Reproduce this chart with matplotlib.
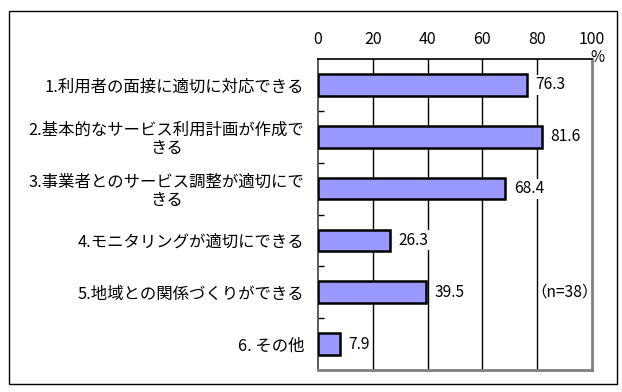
import matplotlib
matplotlib.use("Agg")
import matplotlib.pyplot as plt
from matplotlib.patches import Rectangle

plt.rcParams['font.family'] = ['Noto Sans CJK JP', 'DejaVu Sans']

categories = [
    "1.利用者の面接に適切に対応できる",
    "2.基本的なサービス利用計画が作成で\nきる",
    "3.事業者とのサービス調整が適切にで\nきる",
    "4.モニタリングが適切にできる",
    "5.地域との関係づくりができる",
    "6. その他",
]
values = [76.3, 81.6, 68.4, 26.3, 39.5, 7.9]
xticks = [0, 20, 40, 60, 80, 100]
note = "（n=38）"

W, H = 622, 392
fig = plt.figure(figsize=(W / 100, H / 100), dpi=100)

# outer frame
fig.patches.append(Rectangle((9 / W, 1 - 384 / H), (617 - 9) / W, (384 - 11) / H,
                             transform=fig.transFigure, fill=False,
                             edgecolor='black', linewidth=1.0))

ax = fig.add_axes([318 / W, 1 - 370 / H, (592 - 318) / W, (370 - 59) / H])
n = len(categories)
ypos = list(range(n))
ax.barh(ypos, values, height=0.42, color='#9999FF', edgecolor='black',
        linewidth=1.8, zorder=3)
ax.set_xlim(0, 100)
ax.set_ylim(n - 0.5, -0.5)
ax.set_xticks(xticks)
ax.xaxis.tick_top()
ax.tick_params(axis='x', length=0, pad=8, labelsize=11.5)
ax.set_yticks(ypos)
ax.set_yticklabels(categories, fontsize=11.8, ha='right', multialignment='center',
                   linespacing=1.12)
ax.tick_params(axis='y', which='major', length=0, pad=10)
ax.set_yticks([i + 0.5 for i in range(n)], minor=True)
ax.tick_params(axis='y', which='minor', length=4, direction='in', width=1, color='black')

for x in xticks[1:-1]:
    ax.axvline(x, color='black', linewidth=1.0, zorder=1)

ax.spines['top'].set_color('black')
ax.spines['top'].set_linewidth(1.2)
ax.spines['left'].set_color('#404040')
ax.spines['left'].set_linewidth(1.2)
ax.spines['right'].set_color('#808080')
ax.spines['right'].set_linewidth(2)
ax.spines['bottom'].set_color('#808080')
ax.spines['bottom'].set_linewidth(2)

for y, v in zip(ypos, values):
    ax.annotate(f"{v:.1f}", xy=(v, y), xytext=(6, 0), textcoords='offset points',
                ha='left', va='center', fontsize=11.2, zorder=4,
                bbox=dict(boxstyle='square,pad=0.1', facecolor='white', edgecolor='none'))

ax.text(1.02, 1.005, "%", transform=ax.transAxes, ha='center', va='center', fontsize=11)
ax.text(565 / W, 1 - 292 / H, note, transform=fig.transFigure, ha='center', va='center',
        fontsize=11.2, zorder=4)

fig.savefig("out.png", dpi=100)
